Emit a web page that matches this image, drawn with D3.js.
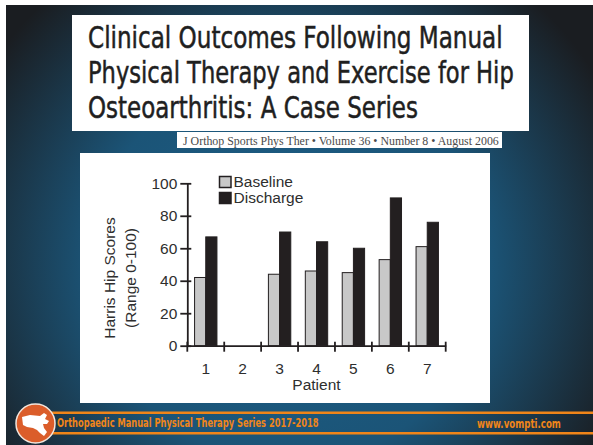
<!DOCTYPE html>
<html>
<head>
<meta charset="utf-8">
<script src="https://cdn.jsdelivr.net/npm/d3@7"></script>
<style>
  html, body { margin: 0; padding: 0; background: #fff; }
  svg { display: block; }
</style>
</head>
<body>
<svg id="slide" width="593" height="445"></svg>
<script>
// Harris Hip Scores per patient, before and after treatment
const patients = ["1", "2", "3", "4", "5", "6", "7"];
const baseline = [42, null, 44, 46, 45, 53, 61];
const discharge = [67, null, 70, 64, 60, 91, 76];
const seriesNames = ["Baseline", "Discharge"];
const yTicks = [0, 20, 40, 60, 80, 100];

const titleLines = [
  "Clinical Outcomes Following Manual",
  "Physical Therapy and Exercise for Hip",
  "Osteoarthritis: A Case Series"
];
const citation = "J Orthop Sports Phys Ther \u2022 Volume 36 \u2022 Number 8 \u2022 August 2006";
const footerLeft = "Orthopaedic Manual Physical Therapy Series 2017-2018";
const footerRight = "www.vompti.com";

const svg = d3.select("#slide");
const defs = svg.append("defs");

// squeeze a text horizontally so it spans the given width
function fitWidth(sel, x0, width) {
  sel.each(function () {
    const w = this.getComputedTextLength();
    const sx = width / w;
    d3.select(this).attr("x", 0)
      .attr("transform", `translate(${x0},${d3.select(this).attr("data-y")}) scale(${sx},1)`)
      .attr("y", 0);
  });
}

// slide background: blue with dark vignette
const grad = defs.append("radialGradient")
  .attr("id", "bg").attr("gradientUnits", "userSpaceOnUse")
  .attr("cx", 290).attr("cy", 265).attr("r", 360);
grad.append("stop").attr("offset", 0).attr("stop-color", "#1c5f88");
grad.append("stop").attr("offset", 0.55).attr("stop-color", "#1b5477");
grad.append("stop").attr("offset", 1).attr("stop-color", "#1a1d21");

svg.append("rect").attr("width", 593).attr("height", 445).attr("fill", "#ffffff");
svg.append("rect").attr("x", 6).attr("y", 5).attr("width", 587).attr("height", 440)
  .attr("fill", "url(#bg)");

// title block
svg.append("rect").attr("x", 72).attr("y", 15).attr("width", 457).attr("height", 116)
  .attr("fill", "#ffffff");
const titleWidths = [415, 426, 330];
svg.append("g").selectAll("text").data(titleLines).join("text")
  .attr("data-y", (d, i) => 47.5 + i * 35.2)
  .attr("font-family", "'DejaVu Sans Condensed', 'Liberation Sans', sans-serif")
  .attr("font-size", 30)
  .attr("fill", "#1f1f1f")
  .attr("stroke", "#1f1f1f").attr("stroke-width", 0.5)
  .text(d => d)
  .each(function (d, i) { fitWidth(d3.select(this), 88, titleWidths[i]); });

// journal reference strip
svg.append("rect").attr("x", 177).attr("y", 132).attr("width", 325).attr("height", 16)
  .attr("fill", "#ffffff");
svg.append("text")
  .attr("data-y", 144.5)
  .attr("font-family", "'Liberation Serif', 'DejaVu Serif', serif")
  .attr("font-size", 11.5)
  .attr("fill", "#4a4a4a")
  .text(citation)
  .call(s => fitWidth(s, 183, 316));

// chart panel
svg.append("rect").attr("x", 80).attr("y", 153).attr("width", 410).attr("height", 250)
  .attr("fill", "#ffffff");

const axisColor = "#231f20";
const labelColor = "#2e2e2e";
const font = "'Liberation Sans', Arial, sans-serif";

const x = d3.scaleBand().domain(patients).range([187.3, 445.7]).paddingInner(0).paddingOuter(0);
const xs = d3.scaleBand().domain(seriesNames).range([0, x.bandwidth()]).paddingInner(0).paddingOuter(0.65);
const y = d3.scaleLinear().domain([0, 100]).range([345.7, 183.3]);
const fills = { Baseline: "#c8c8c8", Discharge: "#231f20" };

const rows = patients.map((p, i) => ({ p, vals: [
  { s: "Baseline", v: baseline[i] },
  { s: "Discharge", v: discharge[i] }
]}));

const chart = svg.append("g");

// bars
chart.selectAll("g.grp").data(rows).join("g")
  .attr("class", "grp")
  .attr("transform", d => `translate(${x(d.p)},0)`)
  .selectAll("rect").data(d => d.vals.filter(v => v.v != null)).join("rect")
  .attr("x", d => xs(d.s))
  .attr("y", d => y(d.v))
  .attr("width", xs.bandwidth())
  .attr("height", d => y(0) - y(d.v))
  .attr("fill", d => fills[d.s])
  .attr("stroke", axisColor)
  .attr("stroke-width", 1);

// y axis with ticks crossing the axis line
const yAxis = chart.append("g")
  .attr("transform", `translate(${x.range()[0]},0)`)
  .call(d3.axisLeft(y).tickValues(yTicks).tickSizeInner(7).tickSizeOuter(0).tickPadding(3));
yAxis.select(".domain").attr("stroke", axisColor).attr("stroke-width", 1.8);
yAxis.selectAll(".tick line").attr("x1", 4).attr("x2", -7)
  .attr("stroke", axisColor).attr("stroke-width", 1.8);
yAxis.selectAll(".tick text").attr("font-family", font).attr("font-size", 15.5)
  .attr("fill", labelColor);

// x axis: labels centred in bands, ticks on band boundaries
const xAxis = chart.append("g")
  .attr("transform", `translate(0,${y(0)})`)
  .call(d3.axisBottom(x).tickSize(0).tickPadding(17));
xAxis.select(".domain").attr("stroke", axisColor).attr("stroke-width", 1.8);
xAxis.selectAll(".tick text").attr("font-family", font).attr("font-size", 15.5)
  .attr("fill", labelColor);
const bounds = patients.map(p => x(p)).concat([x(patients[patients.length - 1]) + x.bandwidth()]);
xAxis.selectAll("line.bound").data(bounds).join("line")
  .attr("class", "bound")
  .attr("x1", d => d).attr("x2", d => d)
  .attr("y1", -4).attr("y2", 6)
  .attr("stroke", axisColor).attr("stroke-width", 1.8);

// axis titles
chart.append("text")
  .attr("x", (x.range()[0] + x.range()[1]) / 2)
  .attr("y", 390)
  .attr("text-anchor", "middle")
  .attr("font-family", font).attr("font-size", 15.5).attr("fill", labelColor)
  .text("Patient");

const yTitle = chart.append("text")
  .attr("transform", "translate(115,278) rotate(-90)")
  .attr("text-anchor", "middle")
  .attr("font-family", font).attr("font-size", 15.5).attr("fill", labelColor);
yTitle.append("tspan").attr("x", 0).attr("y", 0).text("Harris Hip Scores");
yTitle.append("tspan").attr("x", 0).attr("y", 21).text("(Range 0-100)");

// legend
const legend = chart.append("g").attr("transform", "translate(219,176)");
const li = legend.selectAll("g").data(seriesNames).join("g")
  .attr("transform", (d, i) => `translate(0,${i * 16})`);
li.append("rect")
  .attr("x", 0.5).attr("y", 0.5).attr("width", 11.5).attr("height", 11)
  .attr("fill", d => fills[d]).attr("stroke", axisColor).attr("stroke-width", 1.5);
li.append("text")
  .attr("x", 14.5).attr("y", 6).attr("dy", "0.35em")
  .attr("font-family", font).attr("font-size", 15.5).attr("fill", labelColor)
  .text(d => d);

// footer band
const orange = "#f08519";
const footer = svg.append("g");
[412.8, 433.2].forEach(yy => {
  footer.append("line").attr("x1", 50).attr("x2", 593).attr("y1", yy).attr("y2", yy)
    .attr("stroke", orange).attr("stroke-width", 2.6);
});
footer.append("circle").attr("cx", 35.5).attr("cy", 423.5).attr("r", 19.5)
  .attr("fill", "#db5d2a").attr("stroke", "#f3e6dc").attr("stroke-width", 1.5);
footer.append("path")
  .attr("d", "M22,417 L30,415 L40,416 L44,413 L47,415 L45,419 L49,421 L47,424 L43,424 L44,428 L47,432 L44,436 L40,433 L37,430 L33,428 L27,427 L23,425 Z")
  .attr("fill", "#ffffff");
footer.append("text")
  .attr("data-y", 427.3)
  .attr("font-family", "'DejaVu Sans Condensed', 'Open Sans', sans-serif")
  .attr("font-weight", "bold").attr("font-size", 12.5).attr("fill", orange)
  .text(footerLeft)
  .call(s => fitWidth(s, 57, 262));
footer.append("text")
  .attr("data-y", 427.8)
  .attr("font-family", "'DejaVu Sans Condensed', 'Open Sans', sans-serif")
  .attr("font-weight", "bold").attr("font-size", 12.5).attr("fill", orange)
  .text(footerRight)
  .call(s => fitWidth(s, 477, 84));
</script>
</body>
</html>
